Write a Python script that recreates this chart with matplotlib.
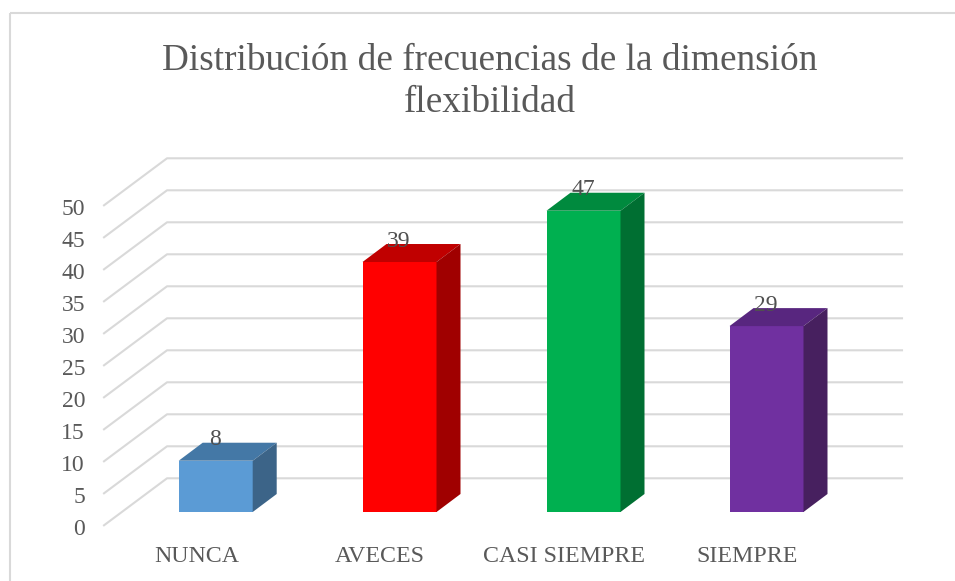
import matplotlib.pyplot as plt
from matplotlib.patches import Polygon, Rectangle

plt.rcParams['font.family'] = ['Liberation Serif']

categories = ["NUNCA", "AVECES", "CASI SIEMPRE", "SIEMPRE"]
values = [8, 39, 47, 29]
front_colors = ["#5b9bd5", "#ff0000", "#00b050", "#7030a0"]
top_colors = ["#4478a6", "#c00000", "#008a3e", "#58267f"]
side_colors = ["#3c6488", "#a00000", "#006f32", "#47205f"]
yticks = list(range(0, 55, 5))

W, H = 955, 581
fig = plt.figure(figsize=(W / 100, H / 100), dpi=100)
ax = fig.add_axes([0, 0, 1, 1])
ax.set_xlim(0, W)
ax.set_ylim(H, 0)
ax.axis("off")

# chart border
ax.add_patch(Rectangle((9.5, 12.5), 950, 600, fill=False, ec="#d9d9d9", lw=1.5, clip_on=True))

y0 = 512      # pixel of value 0 at front
unit = 6.41   # pixels per value
dx, dy = 63, 47  # depth of the floor
bar_dx, bar_dy = 24, 18
xl = 104
xr = 902

def ypix(v):
    return y0 - v * unit

# grid lines, walls
for t in yticks:
    y = 525.3 - t * 6.4
    ax.plot([xl, xl + dx, xr], [y, y - dy, y - dy], color="#d9d9d9", lw=1.5, zorder=1)
    ax.text(85, y + 4.5, str(t), ha="right", va="center", fontsize=17, color="#595959")

bar_x = [178.7, 362.5, 546.5, 729.5]
bar_w = 74
for x, v, cat, fc, tc, sc in zip(bar_x, values, categories, front_colors, top_colors, side_colors):
    top = ypix(v)
    ax.add_patch(Polygon([(x, y0), (x + bar_w, y0), (x + bar_w, top), (x, top)], fc=fc, ec="none", zorder=3))
    ax.add_patch(Polygon([(x, top), (x + bar_w, top), (x + bar_w + bar_dx, top - bar_dy), (x + bar_dx, top - bar_dy)],
                         fc=tc, ec="none", zorder=3))
    ax.add_patch(Polygon([(x + bar_w, y0), (x + bar_w + bar_dx, y0 - bar_dy), (x + bar_w + bar_dx, top - bar_dy), (x + bar_w, top)],
                         fc=sc, ec="none", zorder=3))
    ax.text(x + 36.5, top - 21, str(v), ha="center", va="center", fontsize=17, color="#505050", zorder=4)

for x, cat in zip([197, 380, 564, 747], categories):
    ax.text(x, 556, cat, ha="center", va="center", fontsize=17.2, color="#595959")

ax.text(489.5, 61, "Distribución de frecuencias de la dimensión", ha="center", va="center", fontsize=26.8, color="#595959")
ax.text(489.5, 103, "flexibilidad", ha="center", va="center", fontsize=26.8, color="#595959")

fig.savefig("out.png", dpi=100)
